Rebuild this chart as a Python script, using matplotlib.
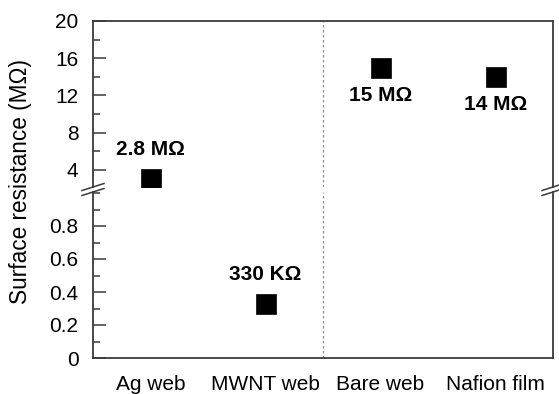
import numpy as np
import matplotlib.pyplot as plt
from matplotlib.ticker import MultipleLocator

plt.rcParams["font.family"] = ["Liberation Sans", "DejaVu Sans"]
plt.rcParams["font.size"] = 15

categories = ["Ag web", "MWNT web", "Bare web", "Nafion film"]
resistance = [3.0, 0.33, 15.0, 14.0]  # MOhm, as plotted
labels = ["2.8 M\u03a9", "330 K\u03a9", "15 M\u03a9", "14 M\u03a9"]
label_offsets = [30, 29, -28, -28]  # px, + above / - below

W, H = 559, 394
fig = plt.figure(figsize=(W / 100, H / 100), dpi=100)

# pixel layout -> figure fractions
left, right = 93 / W, 553 / W
ax_top = fig.add_axes([left, 1 - 187 / H, right - left, (187 - 21) / H])
ax_bot = fig.add_axes([left, 1 - 358 / H, right - left, (358 - 192) / H])

spine_col = "#3a3a3a"
x = np.arange(len(categories))

for ax in (ax_top, ax_bot):
    ax.set_xlim(-0.5, 3.5)
    for s in ax.spines.values():
        s.set_color(spine_col)
        s.set_linewidth(1.3)
    ax.tick_params(axis="y", which="major", direction="in", length=9.5,
                   width=1.1, color=spine_col, pad=10.5, labelsize=15)
    ax.tick_params(axis="y", which="minor", direction="in", length=5,
                   width=1.1, color=spine_col)
    ax.tick_params(axis="y", right=False, which="both")
    ax.axvline(1.5, color="#909090", lw=0.9, ls=(0, (2, 2)))
    ax.plot(x, resistance, "s", color="black", ms=14, mew=0.5, clip_on=True)

ax_top.set_ylim(2.17, 20)
ax_top.yaxis.set_minor_locator(MultipleLocator(2))
ax_top.set_yticks([4, 8, 12, 16, 20])
ax_top.spines["bottom"].set_visible(False)
ax_top.tick_params(axis="x", bottom=False, labelbottom=False)

ax_bot.set_ylim(0, 166 / 165)
ax_bot.set_yticks([0, 0.2, 0.4, 0.6, 0.8])
ax_bot.set_yticklabels(["0", "0.2", "0.4", "0.6", "0.8"])
ax_bot.yaxis.set_minor_locator(MultipleLocator(0.1))
ax_bot.spines["top"].set_visible(False)
ax_bot.set_xticks(x)
ax_bot.set_xticklabels(categories)
ax_bot.tick_params(axis="x", length=0, pad=12.5, labelsize=15)

# value labels
for xi, yi, lab, off in zip(x, resistance, labels, label_offsets):
    ax = ax_top if yi > 1 else ax_bot
    ax.annotate(lab, (xi, yi), xytext=(0, off * 0.72), textcoords="offset points",
                ha="center", va="center", fontweight="bold", fontsize=15)

# axis break marks
for cx in (93, 553):
    for cy in (187, 192):
        fig.add_artist(plt.Line2D([(cx - 11) / W, (cx + 11) / W],
                                  [1 - (cy + 3.5) / H, 1 - (cy - 3.5) / H],
                                  color=spine_col, lw=1.1))

fig.text(21 / W, 1 - 181 / H, "Surface resistance (M\u03a9)", rotation=90,
         ha="center", va="center", fontsize=16.3)

fig.savefig("out.png", dpi=100)
